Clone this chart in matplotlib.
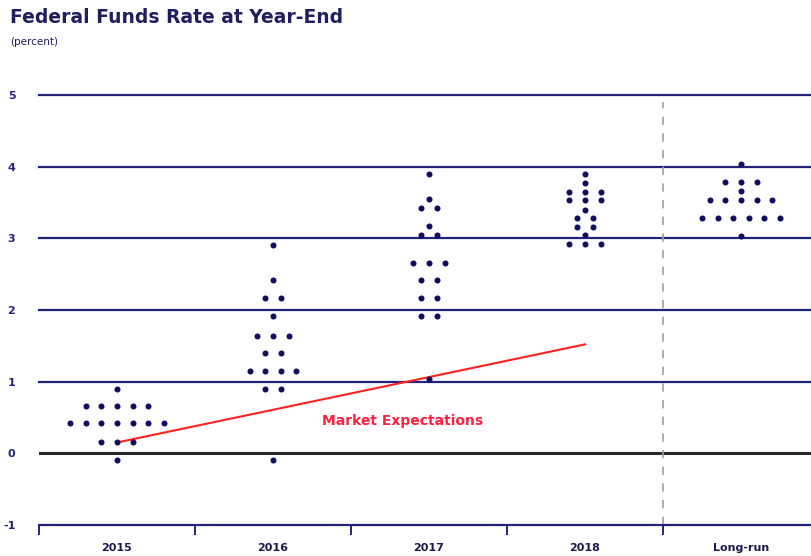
import matplotlib.pyplot as plt

# categories on the x axis
years = ['2015', '2016', '2017', '2018', 'Long-run']

# one list per category: each participant's projected rate (percent)
y2015 = [0.89,
         0.66, 0.66, 0.66, 0.66, 0.66,
         0.42, 0.42, 0.42, 0.42, 0.42, 0.42, 0.42,
         0.15, 0.15, 0.15,
         -0.09]
y2016 = [2.91,
         2.42,
         2.17, 2.17,
         1.92,
         1.64, 1.64, 1.64,
         1.40, 1.40,
         1.15, 1.15, 1.15, 1.15,
         0.90, 0.90,
         -0.09]
y2017 = [3.90,
         3.55,
         3.42, 3.42,
         3.17,
         3.04, 3.04,
         2.66, 2.66, 2.66,
         2.42, 2.42,
         2.17, 2.17,
         1.92, 1.92,
         1.03]
y2018 = [3.90,
         3.77,
         3.65, 3.65, 3.65,
         3.53, 3.53, 3.53,
         3.40,
         3.29, 3.29,
         3.16, 3.16,
         3.04,
         2.92, 2.92, 2.92]
ylong = [4.04,
         3.78, 3.78, 3.78,
         3.66,
         3.53, 3.53, 3.53, 3.53, 3.53,
         3.29, 3.29, 3.29, 3.29, 3.29, 3.29,
         3.03]
dots = [y2015, y2016, y2017, y2018, ylong]

# market expectations line (2015 -> 2018)
market_x = [0, 3]
market_y = [0.15, 1.52]

navy = '#23237a'
dot_col = '#10105e'

fig = plt.figure(figsize=(8.12, 5.56), dpi=100)
ax = fig.add_axes([0.048, 0.056, 0.952, 0.773])

# dots: same values side by side, centred on the category
for i, vals in enumerate(dots):
    levels = []
    for v in vals:
        if v not in levels:
            levels.append(v)
    for lv in levels:
        n = vals.count(lv)
        xs = [i + (k - (n - 1) / 2) * 0.1 for k in range(n)]
        ax.scatter(xs, [lv] * n, s=19, color=dot_col, zorder=4, linewidths=0)

# grid lines
for g in [1, 2, 3, 4, 5]:
    ax.axhline(g, color=navy, lw=1.6, zorder=1, clip_on=False)
ax.axhline(0, color='#2a2a2a', lw=2.2, zorder=1)

# long-run separator
ax.plot([3.5, 3.5], [-1, 4.9], color='#a0a0a0', lw=1.2, ls=(0, (5, 5)), zorder=2)

ax.plot(market_x, market_y, color='#ff2020', lw=1.5, zorder=3)
ax.text(1.83, 0.45, 'Market Expectations', color='#ff2040', fontsize=10,
        fontweight='bold', ha='center', va='center')

ax.set_xlim(-0.5, 4.455)
ax.set_ylim(-1, 5)
for s in ['top', 'right', 'left']:
    ax.spines[s].set_visible(False)
ax.spines['bottom'].set_color(navy)
ax.spines['bottom'].set_linewidth(1.6)

ax.set_yticks([-1, 0, 1, 2, 3, 4, 5])
ax.set_yticklabels(['-1', '0', '1', '2', '3', '4', '5'], fontsize=8,
                   fontweight='bold', color=navy)
ax.tick_params(axis='y', length=0, pad=17)

ax.set_xticks(range(len(years)))
ax.set_xticklabels(years, fontsize=8, fontweight='bold', color='#1a1a4a')
ax.set_xticks([-0.5, 0.5, 1.5, 2.5, 3.5], minor=True)
ax.tick_params(axis='x', which='major', length=0, pad=13)
ax.tick_params(axis='x', which='minor', length=7, width=1.4, color=navy)

fig.text(0.012, 0.968, 'Federal Funds Rate at Year-End', fontsize=13.5,
         fontweight='bold', color='#1f1f5f', va='center')
fig.text(0.012, 0.925, '(percent)', fontsize=7.5, color='#1f1f5f', va='center')

fig.savefig('out.png', dpi=100)
